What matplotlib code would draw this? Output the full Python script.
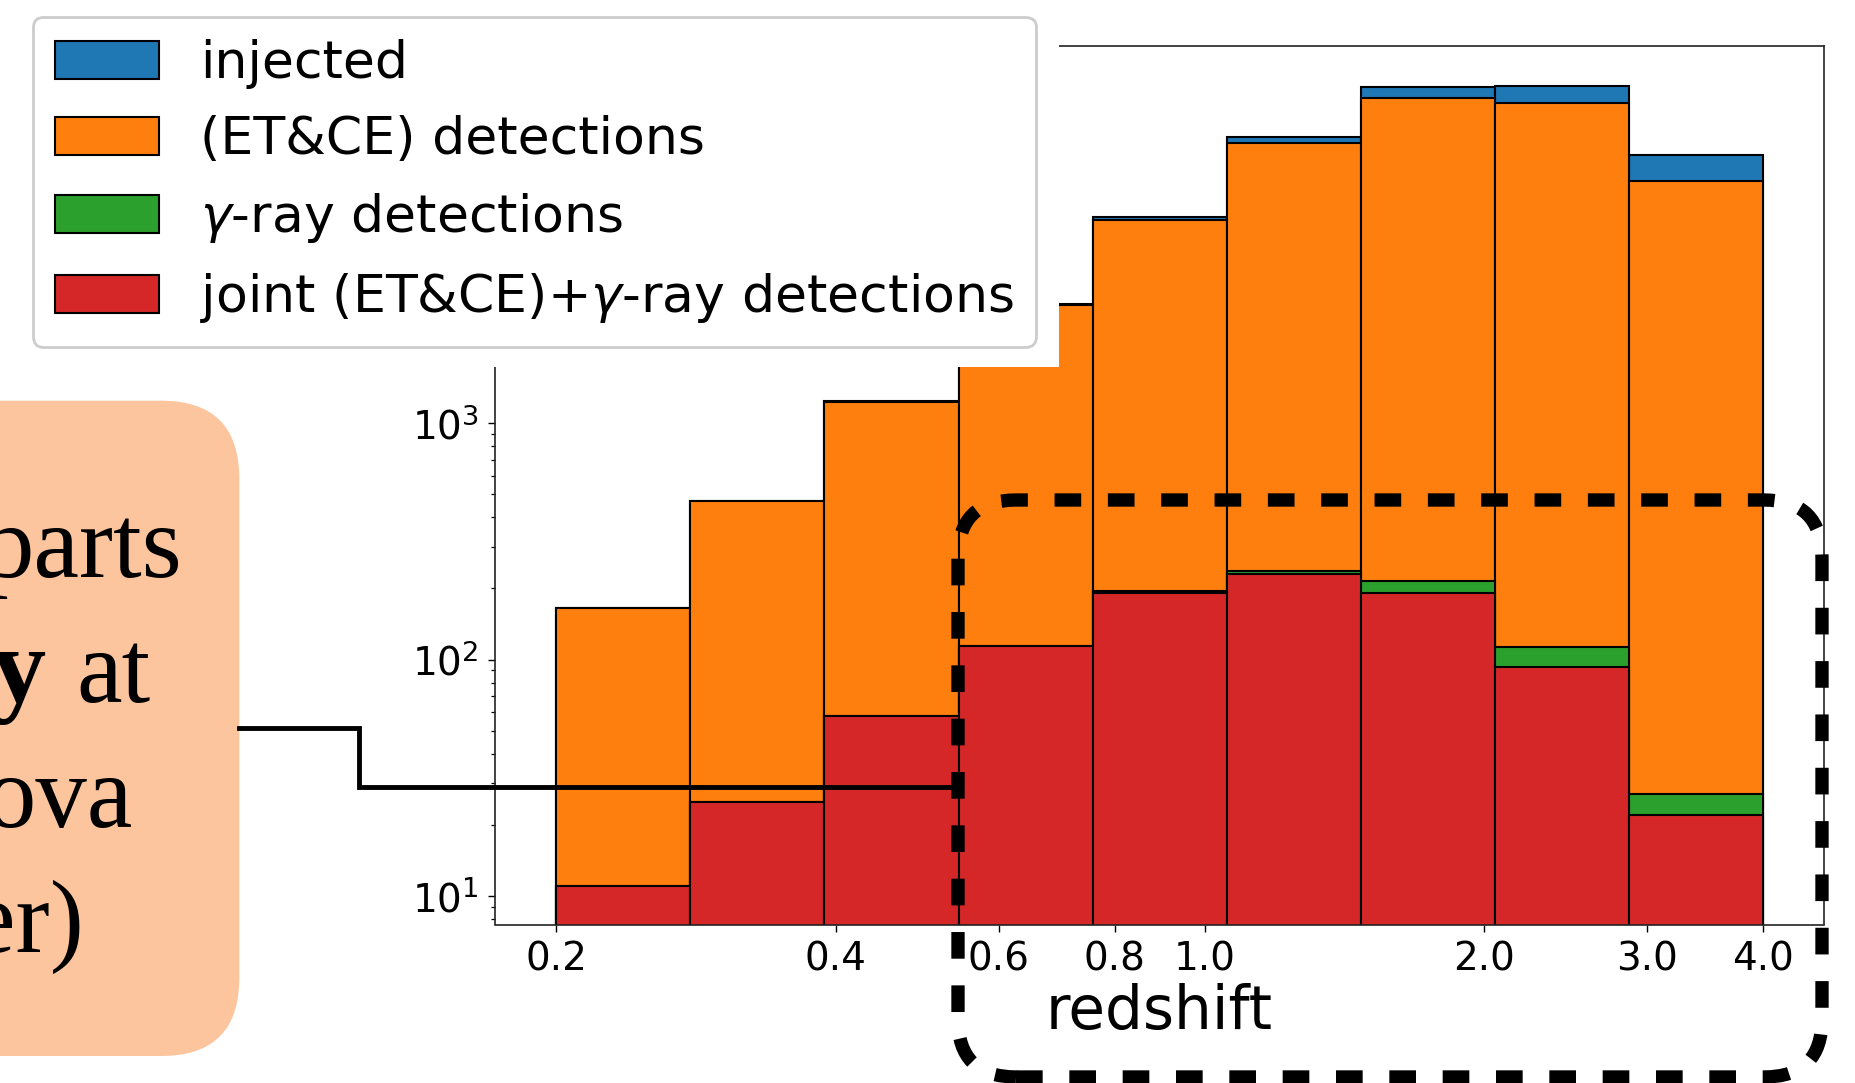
import numpy as np
import matplotlib
matplotlib.use("Agg")
import matplotlib.pyplot as plt
from matplotlib.patches import FancyBboxPatch, Rectangle
from matplotlib.lines import Line2D
from matplotlib.ticker import NullLocator, FixedLocator, FixedFormatter
import matplotlib.transforms as mtransforms

# counts per redshift bin (9 log-spaced bins between z=0.2 and z=4)
z_min, z_max, n_bins = 0.2, 4.0, 9
injected = [166, 470, 1240, 3190, 7470, 16300, 26500, 26750, 13680]
et_ce = [165, 468, 1230, 3150, 7240, 15280, 23660, 22680, 10550]
gamma_ray = [11, 25, 58, 114, 196, 238, 216, 113, 27]
joint = [11, 25, 58, 114, 192, 231, 192, 93, 22]

labels = ["injected", "(ET&CE) detections", r"$\gamma$-ray detections",
          r"joint (ET&CE)+$\gamma$-ray detections"]
colors = ["#1f77b4", "#ff7f0e", "#2ca02c", "#d62728"]
xticks = [0.2, 0.4, 0.6, 0.8, 1.0, 2.0, 3.0, 4.0]
box_lines = ["parts", "at", "ova", "er)"]

W, H = 1856, 1083
fig = plt.figure(figsize=(W / 100, H / 100), dpi=100)
pix = mtransforms.IdentityTransform()


def fx(x):
    return x / W


def fy(y):
    return 1 - y / H


ax = fig.add_axes([fx(495), fy(924.5), (1824 - 495) / W, (924.5 - 45.7) / H])

edges = np.logspace(np.log10(z_min), np.log10(z_max), n_bins + 1)
centers = np.sqrt(edges[:-1] * edges[1:])
handles = []
for counts, c, lab in zip([injected, et_ce, gamma_ray, joint], colors, labels):
    _, _, patches = ax.hist(centers, bins=edges, weights=counts, log=True,
                            color=c, edgecolor="k", linewidth=1.5, label=lab)
    handles.append(patches[0])

ax.set_xscale("log")
ax.set_xlim(0.1718, 4.651)
ax.set_ylim(7.58, 39500)
ax.xaxis.set_major_locator(FixedLocator(xticks))
ax.xaxis.set_major_formatter(FixedFormatter([f"{t:.1f}" for t in xticks]))
ax.xaxis.set_minor_locator(NullLocator())
ax.tick_params(axis="both", which="major", labelsize=28, length=4.8, width=1.0, pad=7)
ax.tick_params(axis="y", which="minor", length=2.9, width=0.9)
for sp in ax.spines.values():
    sp.set_linewidth(1.2)
    sp.set_color("#222222")
ax.set_xlabel("redshift", fontsize=43, labelpad=3)

# white patch behind the legend, hiding the top-left of the axes
fig.add_artist(Rectangle((0, H - 367), 1059, 367, transform=pix,
                         facecolor="white", edgecolor="none", zorder=3))

leg = fig.legend(handles, labels, loc="upper left",
                 bbox_to_anchor=(fx(33), fy(17)), borderaxespad=0,
                 fontsize=37.5, handlelength=2.0, handleheight=0.75,
                 handletextpad=0.78, labelspacing=0.5, borderpad=0.42,
                 fancybox=True, framealpha=1.0, edgecolor="0.8")
leg.get_frame().set_linewidth(2)
leg.set_zorder(5)

# peach callout box on the left, partly off the page
fig.add_artist(FancyBboxPatch((-200, H - 1056), 439.3, 1056 - 400.7,
                              boxstyle="round,pad=0,rounding_size=78",
                              transform=pix, facecolor="#FCC59E",
                              edgecolor="none", zorder=2))
serif = ["Liberation Serif", "DejaVu Serif"]
fs_box = 74
fig.text(fx(182), fy(576.7), box_lines[0], family=serif, fontsize=fs_box,
         ha="right", va="baseline", zorder=4)
fig.text(fx(46), fy(701.7), "y", family=serif, fontsize=fs_box + 4, fontweight="bold",
         ha="right", va="baseline", zorder=4)
fig.text(fx(151), fy(701.7), box_lines[1], family=serif, fontsize=fs_box,
         ha="right", va="baseline", zorder=4)
fig.text(fx(132), fy(826.7), box_lines[2], family=serif, fontsize=fs_box,
         ha="right", va="baseline", zorder=4)
fig.text(fx(84), fy(951.7), box_lines[3], family=serif, fontsize=fs_box,
         ha="right", va="baseline", zorder=4)

# connector from the callout to the dashed box
fig.add_artist(Line2D([239, 359, 359, 958], [H - 728.3, H - 728.3, H - 787.3, H - 787.3],
                      transform=pix, color="k", linewidth=3.5, zorder=4,
                      solid_joinstyle="miter"))

# dashed rounded highlight around the high-redshift bins
fig.add_artist(FancyBboxPatch((958, H - 1077), 864, 577,
                              boxstyle="round,pad=0,rounding_size=58",
                              transform=pix, facecolor="none", edgecolor="k",
                              linewidth=9.6, linestyle=(0, (2, 2)), zorder=4))

fig.savefig("out.png", dpi=100)
